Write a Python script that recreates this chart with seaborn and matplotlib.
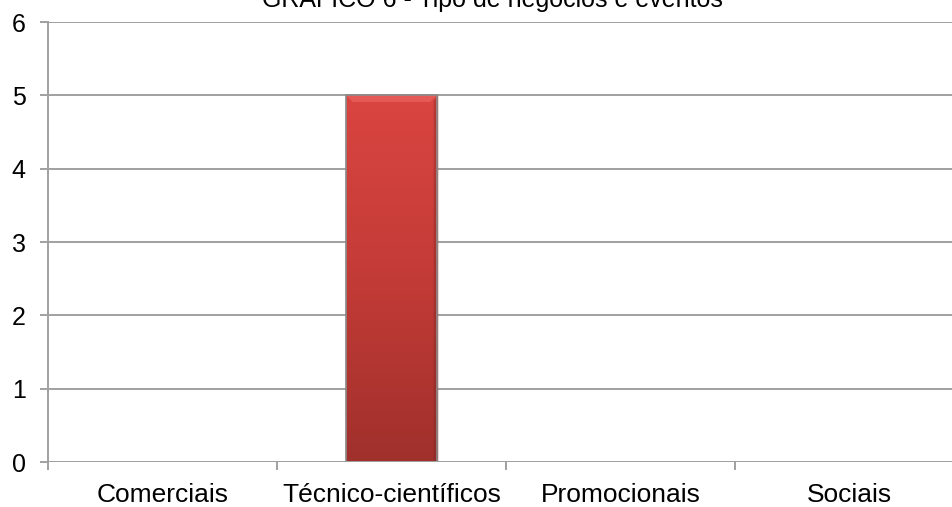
import numpy as np
import pandas as pd
import matplotlib
matplotlib.use("Agg")
import matplotlib.pyplot as plt
import seaborn as sns
from matplotlib.colors import LinearSegmentedColormap

categorias = ["Comerciais", "Técnico-científicos", "Promocionais", "Sociais"]
valores = [0, 5, 0, 0]
yticks = [0, 1, 2, 3, 4, 5, 6]
titulo = "GRÁFICO 6 - Tipo de negócios e eventos"

df = pd.DataFrame({"categoria": categorias, "valor": valores})

sns.set_theme(style="white")
plt.rcParams["font.family"] = ["Liberation Sans", "DejaVu Sans"]

W, H = 953, 507
fig = plt.figure(figsize=(W / 100, H / 100), dpi=100)
ax = fig.add_axes([48 / W, (H - 462) / H, (964 - 48) / W, (462 - 22) / H])

sns.barplot(data=df, x="categoria", y="valor", ax=ax, width=0.40,
            color="#c23b37", edgecolor="#8a2a27", linewidth=1.0, zorder=3)

# vertical red gradient inside each bar
cmap = LinearSegmentedColormap.from_list("barra", ["#a0302c", "#c33b37", "#da4541"])
grad = np.linspace(0, 1, 256).reshape(-1, 1)
for p in ax.patches:
    h = p.get_height()
    if h <= 0:
        p.set_visible(False)
        continue
    x0, w = p.get_x(), p.get_width()
    im = ax.imshow(grad, cmap=cmap, origin="lower", aspect="auto",
                   extent=[x0, x0 + w, 0, h], zorder=3.5)
    im.set_clip_path(p)
    # light bevel along the top edge
    ax.fill([x0, x0 + w, x0 + w * 0.92, x0 + w * 0.08],
            [h, h, h - 0.09, h - 0.09],
            color="#ee6a66", alpha=0.6, zorder=3.6, linewidth=0)
    # darker right-hand edge
    ax.fill([x0 + w, x0 + w, x0 + w * 0.96, x0 + w * 0.96],
            [0, h, h - 0.09, 0],
            color="#7a2320", alpha=0.35, zorder=3.6, linewidth=0)
    ax.plot([x0, x0, x0 + w, x0 + w], [0, h, h, 0], color="#8c8c8c",
            lw=1.2, zorder=3.7)

ax.set_xlim(-0.5, 3.5)
ax.set_ylim(0, 6)
ax.set_yticks(yticks)
ax.set_xlabel("")
ax.set_ylabel("")

ax.grid(axis="y", color="#a0a0a0", linewidth=1.4, zorder=0)
ax.set_axisbelow(True)
for s in ["top", "right", "bottom"]:
    ax.spines[s].set_visible(False)
ax.spines["left"].set_color("#a0a0a0")
ax.spines["left"].set_linewidth(1.4)

ax.tick_params(axis="y", which="major", length=6, width=1.4, color="#a0a0a0",
               labelsize=18, labelcolor="black", pad=10, left=True)
ax.tick_params(axis="x", which="major", length=0, labelsize=19,
               labelcolor="black", pad=15)
ax.set_xticks(np.arange(-0.5, 4.0, 1.0), minor=True)
ax.tick_params(axis="x", which="minor", length=6, width=1.4, color="#a0a0a0",
               bottom=True)
ax.axhline(0, color="#a0a0a0", lw=1.4, zorder=4)

fig.text(492 / W, 1 - 7 / H, titulo, ha="center", va="baseline",
         fontsize=18, color="black")

fig.savefig("out.png", dpi=100, facecolor="white")
